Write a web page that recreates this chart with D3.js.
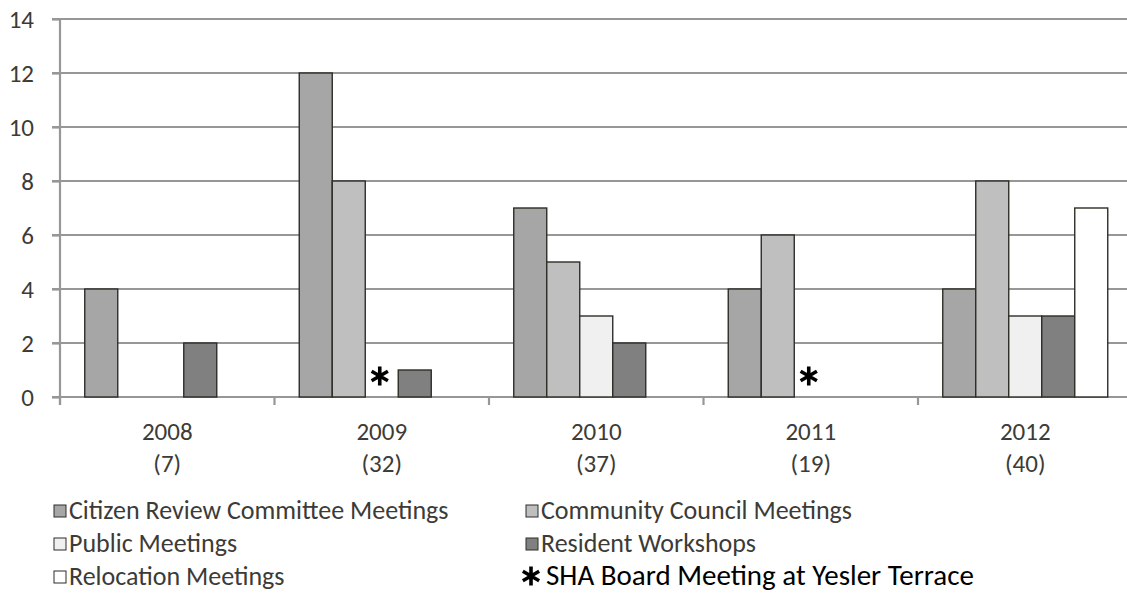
<!DOCTYPE html>
<html>
<head>
<meta charset="utf-8">
<script src="https://cdn.jsdelivr.net/npm/d3@7"></script>
<style>
  html, body { margin: 0; padding: 0; background: #fff; }
  svg { display: block; }
  text { font-family: Carlito, Lato, "Open Sans", sans-serif; }
</style>
</head>
<body>
<svg id="chart" width="1127" height="595"></svg>
<script>
// Yesler Terrace engagement meetings per year, by meeting type
const categories = ["2008", "2009", "2010", "2011", "2012"];
const totals = ["(7)", "(32)", "(37)", "(19)", "(40)"];
const seriesNames = [
  "Citizen Review Committee Meetings",
  "Community Council Meetings",
  "Public Meetings",
  "Resident Workshops",
  "Relocation Meetings"
];
const citizenReview = [4, 12, 7, 4, 4];
const communityCouncil = [0, 8, 5, 6, 8];
const publicMeetings = [0, 0, 3, 0, 3];
const residentWorkshops = [2, 1, 2, 0, 3];
const relocationMeetings = [0, 0, 0, 0, 7];
const boardMeetingYears = ["2009", "2011"];
const boardMeetingLabel = "SHA Board Meeting at Yesler Terrace";
const yTicks = [0, 2, 4, 6, 8, 10, 12, 14];

const seriesValues = [citizenReview, communityCouncil, publicMeetings, residentWorkshops, relocationMeetings];
const seriesFill = ["#a6a6a6", "#bfbfbf", "#f0f0f0", "#808080", "#ffffff"];
const textColor = "#3c3b37";
const gridColor = "#979797";
const barStroke = "#2f2d26";

const svg = d3.select("#chart");
const plot = { left: 60, right: 1132.5, top: 19, bottom: 397 };

const x = d3.scaleBand().domain(categories).range([plot.left, plot.right]).padding(0);
const xs = d3.scaleBand().domain(seriesNames).range([0, x.bandwidth()])
  .paddingInner(0).paddingOuter(0.75);
const y = d3.scaleLinear().domain([0, 14]).range([plot.bottom, plot.top]);

// horizontal gridlines
svg.append("g").selectAll("line").data(yTicks).join("line")
  .attr("x1", plot.left - 8).attr("x2", 1127)
  .attr("y1", d => y(d)).attr("y2", d => y(d))
  .attr("stroke", gridColor).attr("stroke-width", 2.2);

// left value axis
const yAxis = svg.append("g").attr("transform", `translate(${plot.left},0)`)
  .call(d3.axisLeft(y).tickValues(yTicks).tickSize(8).tickSizeOuter(0).tickPadding(18));
yAxis.select(".domain").remove();
yAxis.selectAll(".tick line").attr("stroke", gridColor).attr("stroke-width", 2.2);
yAxis.selectAll(".tick text").attr("fill", textColor).style("font-size", "25px")
  .attr("dy", "0.34em");
svg.append("line")
  .attr("x1", plot.left).attr("x2", plot.left)
  .attr("y1", plot.top).attr("y2", plot.bottom + 8)
  .attr("stroke", gridColor).attr("stroke-width", 2.2);

// category boundary ticks
const boundaries = categories.map(c => x(c)).concat([plot.right]);
svg.append("g").selectAll("line").data(boundaries).join("line")
  .attr("x1", d => d).attr("x2", d => d)
  .attr("y1", plot.bottom).attr("y2", plot.bottom + 8)
  .attr("stroke", gridColor).attr("stroke-width", 2.2);

// category labels: year with total count beneath
const xAxis = svg.append("g").attr("transform", `translate(0,${plot.bottom})`)
  .call(d3.axisBottom(x).tickSize(0).tickPadding(0));
xAxis.select(".domain").remove();
xAxis.selectAll(".tick text").each(function(d, i) {
  const t = d3.select(this).text(null).attr("fill", textColor)
    .style("font-size", "25px").attr("y", 0).attr("dy", null);
  t.append("tspan").attr("x", 0).attr("y", 43).text(d);
  t.append("tspan").attr("x", 0).attr("y", 75).text(totals[i]);
});

// bars
const barData = [];
categories.forEach((c, ci) => {
  seriesNames.forEach((s, si) => {
    const v = seriesValues[si][ci];
    if (v > 0) barData.push({ c, s, si, v });
  });
});
svg.append("g").selectAll("rect").data(barData).join("rect")
  .attr("x", d => x(d.c) + xs(d.s))
  .attr("y", d => y(d.v))
  .attr("width", xs.bandwidth())
  .attr("height", d => y(0) - y(d.v))
  .attr("fill", d => seriesFill[d.si])
  .attr("stroke", barStroke).attr("stroke-width", 1.4);

// board meeting markers
const star = d3.symbol().type(d3.symbolAsterisk).size(250);
svg.append("g").selectAll("path").data(boardMeetingYears).join("path")
  .attr("transform", d => `translate(${x(d) + xs("Public Meetings") + xs.bandwidth() / 2 - 2},${plot.bottom - 21})`)
  .attr("d", star)
  .attr("fill", "none").attr("stroke", "#000").attr("stroke-width", 3.6);

// legend
const legendCols = [54, 526];
const legendRows = [519, 552, 585];
const legendItems = seriesNames.map((s, i) => ({
  label: s, fill: seriesFill[i], col: i % 2, row: Math.floor(i / 2)
}));
const lg = svg.append("g");
legendItems.forEach(d => {
  const gx = legendCols[d.col], gy = legendRows[d.row];
  lg.append("rect").attr("x", gx).attr("y", gy - 14).attr("width", 12).attr("height", 12)
    .attr("fill", d.fill).attr("stroke", barStroke).attr("stroke-width", 1);
  lg.append("text").attr("x", gx + 15).attr("y", gy).attr("fill", textColor)
    .style("font-size", "26px").text(d.label);
});
lg.append("path")
  .attr("transform", `translate(${legendCols[1] + 5},${legendRows[2] - 9})`)
  .attr("d", star)
  .attr("fill", "none").attr("stroke", "#000").attr("stroke-width", 3.6);
lg.append("text").attr("x", legendCols[1] + 20).attr("y", legendRows[2]).attr("fill", "#000")
  .style("font-size", "29px").text(boardMeetingLabel);
</script>
</body>
</html>
